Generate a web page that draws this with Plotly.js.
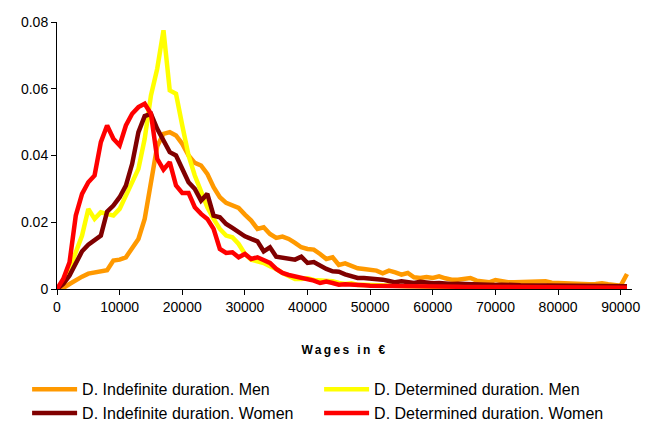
<!DOCTYPE html>
<html>
<head>
<meta charset="utf-8">
<script src="https://cdn.plot.ly/plotly-3.0.1.min.js"></script>
<style>html,body{margin:0;padding:0;background:#fff;}#chart{width:647px;height:421px;}
#chart .xtitle{letter-spacing:2.4px;}</style>
</head>
<body>
<div id="chart"></div>
<script>
// Wage bins (€)
var wages = [0,1000,2000,3000,4000,5000,6000,7000,8000,9000,
  10000,11000,12000,13000,14000,15000,16000,17000,18000,19000,
  20000,21000,22000,23000,24000,25000,26000,27000,28000,29000,
  30000,31000,32000,33000,34000,35000,36000,37000,38000,39000,
  40000,41000,42000,43000,44000,45000,46000,47000,48000,49000,
  50000,51000,52000,53000,54000,55000,56000,57000,58000,59000,
  60000,61000,62000,63000,64000,65000,66000,67000,68000,69000,
  70000,71000,72000,73000,74000,75000,76000,77000,78000,79000,
  80000,81000,82000,83000,84000,85000,86000,87000,88000,89000,
  90000,91000];

var indefMen = [0,0.0003,0.0015,0.0027,0.0037,0.0046,0.0049,0.005,0.0056,0.0085,
  0.0088,0.0095,0.012,0.015,0.021,0.031,0.0428,0.0465,0.047,0.046,
  0.0435,0.040,0.0378,0.037,0.0345,0.0305,0.0275,0.0258,0.0252,0.0243,
  0.0223,0.0205,0.018,0.0185,0.0165,0.0153,0.0157,0.015,0.0138,0.0125,
  0.012,0.0118,0.0105,0.009,0.0095,0.0072,0.0077,0.007,0.0062,0.006,
  0.0057,0.0055,0.0047,0.0055,0.005,0.0043,0.0048,0.0035,0.0033,0.0036,
  0.0033,0.0038,0.0032,0.0028,0.0028,0.003,0.0033,0.0025,0.0022,0.002,
  0.0027,0.0022,0.002,0.002,0.002,0.002,0.002,0.002,0.0023,0.0019,
  0.0018,0.0018,0.0018,0.0016,0.0013,0.0014,0.0015,0.0017,0.0014,0.0012,
  0.001,0.0045];

var detMen = [0,0.002,0.006,0.011,0.016,0.024,0.021,0.023,0.0225,0.022,
  0.024,0.028,0.032,0.036,0.045,0.058,0.066,0.0775,0.0595,0.0585,
  0.049,0.040,0.034,0.029,0.0245,0.021,0.018,0.016,0.0155,0.0135,
  0.0105,0.0088,0.0083,0.0078,0.0068,0.006,0.0048,0.004,0.003,0.003,
  0.0032,0.0027,0.0025,0.0026,0.0023,0.0018,0.0015,0.0017,0.0012,0.0013,
  0.0012,0.001,0.0009,0.001,0.0008,0.0009,0.0008,0.0008,0.0007,0.0008,
  0.0007,0.0007,0.0006,0.0007,0.0006,0.0006,0.0006,0.0005,0.0006,0.0005,
  0.0005,0.0005,0.0005,0.0005,0.0004,0.0005,0.0004,0.0004,0.0004,0.0004,
  0.0004,0.0004,0.0004,0.0003,0.0004,0.0003,0.0003,0.0003,0.0003,0.0003,
  0.0003,0.0003];

var indefWomen = [0,0.0015,0.004,0.008,0.0113,0.0133,0.0147,0.016,0.0232,0.025,
  0.0275,0.031,0.0375,0.047,0.0518,0.0525,0.048,0.0445,0.041,0.040,
  0.036,0.032,0.030,0.0265,0.0285,0.022,0.0215,0.0195,0.0183,0.017,
  0.0158,0.015,0.0143,0.0113,0.0125,0.0097,0.0093,0.009,0.0088,0.0097,
  0.0078,0.0081,0.007,0.006,0.0053,0.0052,0.0044,0.0038,0.0033,0.0033,
  0.0032,0.003,0.0028,0.0024,0.002,0.0023,0.002,0.0018,0.0022,0.0018,
  0.0017,0.0018,0.0016,0.0015,0.0016,0.0015,0.0014,0.0015,0.0013,0.0012,
  0.0012,0.0013,0.0011,0.0012,0.0011,0.0011,0.001,0.0011,0.001,0.001,
  0.001,0.0009,0.001,0.0009,0.0009,0.0008,0.0009,0.0008,0.0008,0.0008,
  0.0008,0.0008];

var detWomen = [0,0.003,0.008,0.022,0.0285,0.032,0.034,0.044,0.049,0.045,
  0.043,0.049,0.0525,0.0545,0.0555,0.0525,0.039,0.0358,0.038,0.031,
  0.0288,0.0288,0.0245,0.0225,0.021,0.018,0.012,0.0108,0.011,0.0095,
  0.0105,0.009,0.0095,0.0088,0.0078,0.006,0.0048,0.0042,0.0038,0.0034,
  0.003,0.0025,0.0018,0.0022,0.0018,0.0013,0.0014,0.0012,0.0011,0.0011,
  0.001,0.001,0.0009,0.001,0.0009,0.0008,0.0009,0.0008,0.0008,0.0008,
  0.0007,0.0008,0.0007,0.0007,0.0007,0.0006,0.0007,0.0006,0.0006,0.0006,
  0.0006,0.0006,0.0005,0.0006,0.0005,0.0005,0.0005,0.0005,0.0005,0.0005,
  0.0005,0.0005,0.0005,0.0004,0.0005,0.0004,0.0004,0.0004,0.0004,0.0004,
  0.0004,0.0004];

var seriesNames = ["D. Indefinite duration. Men","D. Determined duration. Men",
  "D. Indefinite duration. Women","D. Determined duration. Women"];
var seriesColors = ["#FF9900","#FFFF00","#800000","#FF0000"];
var seriesValues = [indefMen, detMen, indefWomen, detWomen];

var traces = seriesValues.map(function(v, i){
  return {x: wages, y: v, type: 'scatter', mode: 'lines', name: seriesNames[i],
    line: {color: seriesColors[i], width: 4.5}};
});

var layout = {
  width: 647, height: 421,
  margin: {l: 57, r: 15, t: 22, b: 132, autoexpand: false},
  paper_bgcolor: '#fff', plot_bgcolor: '#fff',
  font: {family: 'Arial, "Liberation Sans", sans-serif', size: 14, color: '#000'},
  showlegend: true,
  legend: {orientation: 'h', x: -0.052, xanchor: 'left', y: -0.312, yanchor: 'top',
    entrywidth: 232, entrywidthmode: 'pixels', tracegroupgap: 0,
    font: {size: 16}, itemwidth: 45},
  xaxis: {range: [0, 91800], tickvals: [0,10000,20000,30000,40000,50000,60000,70000,80000,90000],
    ticktext: ['0','10000','20000','30000','40000','50000','60000','70000','80000','90000'],
    showgrid: false, zeroline: false, showline: true, linecolor: '#000', linewidth: 1,
    ticks: 'outside', ticklen: 5, tickcolor: '#000', tickfont: {size: 14},
    title: {text: '<b>Wages in €</b>', font: {size: 12}, standoff: 31}},
  yaxis: {range: [0, 0.08], tickvals: [0,0.02,0.04,0.06,0.08],
    ticktext: ['0','0.02','0.04','0.06','0.08'],
    showgrid: false, zeroline: false, showline: true, linecolor: '#000', linewidth: 1,
    ticks: 'outside', ticklen: 5, tickcolor: '#000', tickfont: {size: 14}}
};

Plotly.newPlot('chart', traces, layout, {staticPlot: true, displayModeBar: false});
</script>
</body>
</html>
